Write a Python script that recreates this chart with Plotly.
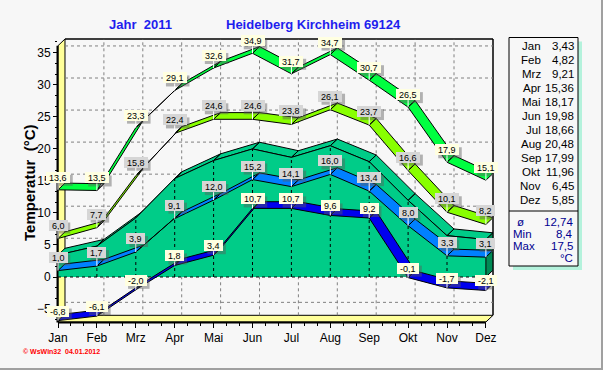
import plotly.graph_objects as go

# ---------------- data ----------------
months = ["Jan", "Feb", "Mrz", "Apr", "Mai", "Jun", "Jul", "Aug", "Sep", "Okt", "Nov", "Dez"]
abs_max = [13.6, 13.5, 23.3, 29.1, 32.6, 34.9, 31.7, 34.7, 30.7, 26.5, 17.9, 15.1]
mean_max = [6.0, 7.7, 15.8, 22.4, 24.6, 24.6, 23.8, 26.1, 23.7, 16.6, 10.1, 8.2]
mean_temp = [3.43, 4.82, 9.21, 15.36, 18.17, 19.98, 18.66, 20.48, 17.99, 11.96, 6.45, 5.85]
mean_min = [1.0, 1.7, 3.9, 9.1, 12.0, 15.2, 14.1, 16.0, 13.4, 8.0, 3.3, 3.1]
abs_min = [-6.8, -6.1, -2.0, 1.8, 3.4, 10.7, 10.7, 9.6, 9.2, -0.1, -1.7, -2.1]
summary_names = ["ø", "Min", "Max"]
summary_values = [12.74, 8.4, 17.5]
y_tick_values = [-5, 0, 5, 10, 15, 20, 25, 30, 35]

# ---------------- geometry (pixels) ----------------
W, H = 603, 370
PL, PR, PT, PB = 58, 493, 39, 322
X_STEP = 38.9
Y_ZERO = 277.0
Y_STEP = 6.41
DEPTH_X_PX, DEPTH_Y_PX = 7.0, 6.7

x_range = [0, (PR - PL) / X_STEP]
y_range = [(Y_ZERO - PB) / Y_STEP, (Y_ZERO - PT) / Y_STEP]
DX = DEPTH_X_PX / X_STEP
DY = DEPTH_Y_PX / Y_STEP

FONT = "Liberation Sans, Arial, sans-serif"
BG = "#F7F7F7"
LABEL_FS = 9
CHAR_W = {"-": 333, ",": 278}


def fx(p):
    return (p - PL) / (PR - PL)


def fy(p):
    return (PB - p) / (PB - PT)


def fmt(v, d=1):
    return f"{v:.{d}f}".replace(".", ",")


def text_w(t, fs):
    return sum(CHAR_W.get(c, 556) for c in t) * fs / 1000.0


xs = list(range(len(months)))


def ribbon(vals):
    X, Y = [], []
    for i in range(len(vals) - 1):
        X += [xs[i], xs[i + 1], xs[i + 1] + DX, xs[i] + DX, xs[i], None]
        Y += [vals[i], vals[i + 1], vals[i + 1] + DY, vals[i] + DY, vals[i], None]
    return X, Y


fig = go.Figure()

# ---------------- area (monthly mean) ----------------
tx, ty = ribbon(mean_temp)
fig.add_trace(go.Scatter(x=tx, y=ty, mode="lines", fill="toself", fillcolor="#00CC88",
                         line=dict(color="black", width=1), hoverinfo="skip", showlegend=False))
fig.add_trace(go.Scatter(x=xs + [xs[-1], xs[0]], y=mean_temp + [0, 0], mode="lines", fill="toself",
                         fillcolor="#00CC88", line=dict(width=0), hoverinfo="skip", showlegend=False))
fig.add_trace(go.Scatter(x=xs, y=mean_temp, mode="lines", line=dict(color="black", width=1),
                         hoverinfo="skip", showlegend=False))
# right side face
fig.add_trace(go.Scatter(x=[xs[-1], xs[-1], xs[-1] + DX, xs[-1] + DX, xs[-1]],
                         y=[0, mean_temp[-1], mean_temp[-1] + DY, DY, 0], mode="lines", fill="toself",
                         fillcolor="#008A55", line=dict(color="black", width=1),
                         hoverinfo="skip", showlegend=False))
# dotted edges
vx, vy = [], []
for i in xs[1:-1]:
    vx += [i, i, None]
    vy += [0, mean_temp[i], None]
fig.add_trace(go.Scatter(x=vx, y=vy, mode="lines", line=dict(color="black", width=1, dash="dot"),
                         hoverinfo="skip", showlegend=False))
fig.add_trace(go.Scatter(x=[xs[0], xs[-1]], y=[0, 0], mode="lines",
                         line=dict(color="black", width=1, dash="dot"),
                         hoverinfo="skip", showlegend=False))

# ---------------- ribbons ----------------
for vals, col in [(abs_max, "#00FF40"), (mean_max, "#88FF00"), (mean_min, "#0080FF"), (abs_min, "#0000EE")]:
    rx, ry = ribbon(vals)
    fig.add_trace(go.Scatter(x=rx, y=ry, mode="lines", fill="toself", fillcolor=col,
                             line=dict(color="black", width=1), hoverinfo="skip", showlegend=False))

# ---------------- frame shapes ----------------
shapes = []
BACK_L = PL + DEPTH_X_PX
FLOOR_B = PB - DEPTH_Y_PX
FRONT_R = PL + (len(months) - 1) * X_STEP


def ppath(points):
    return "M " + " L ".join(f"{fx(a):.5f},{fy(b):.5f}" for a, b in points) + " Z"


def pline(x0, y0, x1, y1, color="black", width=1, dash="solid", layer="below"):
    return dict(type="line", xref="paper", yref="paper", x0=fx(x0), y0=fy(y0), x1=fx(x1), y1=fy(y1),
                line=dict(color=color, width=width, dash=dash), layer=layer)


# grid on back wall (data coordinates, depth shifted)
for v in y_tick_values:
    shapes.append(dict(type="line", xref="x", yref="y", x0=DX, x1=x_range[1], y0=v + DY, y1=v + DY,
                       line=dict(color="#808080", width=1, dash="3px,3px"), layer="below"))
for i in xs[1:-1]:
    shapes.append(dict(type="line", xref="x", yref="y", x0=i + DX, x1=i + DX, y0=y_range[0] + DY,
                       y1=y_range[1], line=dict(color="#808080", width=1, dash="3px,3px"), layer="below"))

# left wall
shapes.append(dict(type="path", xref="paper", yref="paper",
                   path=ppath([(PL, PB), (PL, PT + DEPTH_Y_PX), (BACK_L, PT), (BACK_L, FLOOR_B)]),
                   fillcolor="#FFFF99", line=dict(color="black", width=1), layer="below"))
# floor
shapes.append(dict(type="path", xref="paper", yref="paper",
                   path=ppath([(PL, PB), (FRONT_R, PB), (PR, FLOOR_B), (BACK_L, FLOOR_B)]),
                   fillcolor="#FFFF99", line=dict(color="black", width=1), layer="below"))
# back wall borders
shapes.append(pline(BACK_L, PT, PR, PT, width=1.5))
shapes.append(pline(PR, PT, PR, FLOOR_B, width=1.5))
# front axis lines
shapes.append(pline(PL - 0.5, PT + DEPTH_Y_PX, PL - 0.5, PB + 0.5, width=2, layer="above"))
shapes.append(pline(PL, PB + 0.5, FRONT_R, PB + 0.5, width=2, layer="above"))

# table box
shapes.append(dict(type="rect", xref="paper", yref="paper", x0=fx(513), x1=fx(582), y0=fy(41.5), y1=fy(270),
                   fillcolor="#B4F2DC", line=dict(width=0), layer="below"))
shapes.append(dict(type="rect", xref="paper", yref="paper", x0=fx(509), x1=fx(578), y0=fy(37.5), y1=fy(266),
                   fillcolor=BG, line=dict(color="black", width=1), layer="below"))
shapes.append(pline(509, 211, 578, 211))
# image border
shapes.append(pline(0, 369, 603, 369, color="#A0A0A0", width=2, layer="above"))
shapes.append(pline(602, 0, 602, 370, color="#A0A0A0", width=2, layer="above"))

# ---------------- annotations ----------------
ann = []
BOX_H = 11


def add_labels(vals, bg, lift):
    for i, v in enumerate(vals):
        t = fmt(v)
        bw = text_w(t, LABEL_FS) + 4
        tot_w = bw + 2
        # drop shadow (pixel-sized shape anchored at the data point)
        shapes.append(dict(type="rect", xref="x", yref="y", xsizemode="pixel", ysizemode="pixel",
                           xanchor=xs[i], yanchor=v,
                           x0=-tot_w / 2 + 3, x1=tot_w / 2 + 3,
                           y0=lift - BOX_H / 2 - 3, y1=lift + BOX_H / 2 - 3,
                           fillcolor="rgba(90,90,90,0.45)", line=dict(width=0), layer="above"))
        ann.append(dict(x=xs[i], y=v, xref="x", yref="y", text=t, showarrow=True,
                        arrowhead=0, arrowwidth=1, arrowcolor="white", ax=0, ay=-lift, standoff=0,
                        font=dict(family=FONT, size=LABEL_FS, color="black"), width=bw, height=BOX_H - 2,
                        bgcolor=bg, borderpad=1, borderwidth=0))


add_labels(abs_max, "#FFFFE1", 12.5)
add_labels(mean_max, "#D6D6D6", 13.5)
add_labels(mean_min, "#D6D6D6", 13.5)
add_labels(abs_min, "#FFFFE1", 9.5)

# title
ann.append(dict(x=fx(140), y=fy(24), xref="paper", yref="paper", text="<b>Jahr\u00a0\u00a02011</b>",
                showarrow=False, xanchor="center", yanchor="middle",
                font=dict(family=FONT, size=13, color="#1E1EEE")))
ann.append(dict(x=fx(313.5), y=fy(24), xref="paper", yref="paper", text="<b>Heidelberg Kirchheim 69124</b>",
                showarrow=False, xanchor="center", yanchor="middle",
                font=dict(family=FONT, size=13, color="#1E1EEE")))
# y-axis title
ann.append(dict(x=fx(29), y=fy(183), xref="paper", yref="paper", text="<b>Temperatur\u00a0\u00a0(°C)</b>",
                showarrow=False, xanchor="center", yanchor="middle", textangle=-90,
                font=dict(family=FONT, size=15, color="black")))
# table
for i, m in enumerate(months):
    yy = 46 + 14 * i
    ann.append(dict(x=fx(543), y=fy(yy), xref="paper", yref="paper", text=m, showarrow=False,
                    xanchor="right", yanchor="middle", font=dict(family=FONT, size=11.5, color="black")))
    ann.append(dict(x=fx(576), y=fy(yy), xref="paper", yref="paper", text=fmt(mean_temp[i], 2),
                    showarrow=False, xanchor="right", yanchor="middle",
                    font=dict(family=FONT, size=11.5, color="black")))
summary_text = [fmt(summary_values[0], 2), fmt(summary_values[1], 1), fmt(summary_values[2], 1)]
for i, (nm, val) in enumerate(zip(summary_names, summary_text)):
    yy = 222 + 12 * i
    if i == 0:
        ann.append(dict(x=fx(520), y=fy(yy), xref="paper", yref="paper", text=nm, showarrow=False,
                        xanchor="center", yanchor="middle", font=dict(family=FONT, size=11.5, color="#000090")))
    else:
        ann.append(dict(x=fx(511), y=fy(yy), xref="paper", yref="paper", text=nm, showarrow=False,
                        xanchor="left", yanchor="middle", font=dict(family=FONT, size=11.5, color="#000090")))
    ann.append(dict(x=fx(575), y=fy(yy), xref="paper", yref="paper", text=val, showarrow=False,
                    xanchor="right", yanchor="middle", font=dict(family=FONT, size=11.5, color="#000090")))
ann.append(dict(x=fx(575), y=fy(258), xref="paper", yref="paper", text="°C", showarrow=False,
                xanchor="right", yanchor="middle", font=dict(family=FONT, size=11.5, color="#000090")))
# footer
ann.append(dict(x=fx(21), y=fy(351), xref="paper", yref="paper", text="<b>© WsWin32\u00a0\u00a004.01.2012</b>",
                showarrow=False, xanchor="left", yanchor="middle", font=dict(family=FONT, size=7, color="#FF0000")))

fig.update_layout(
    width=W, height=H,
    margin=dict(l=PL, r=W - PR, t=PT, b=H - PB, pad=0),
    paper_bgcolor=BG, plot_bgcolor=BG,
    showlegend=False, hovermode=False,
    shapes=shapes, annotations=ann,
    xaxis=dict(range=x_range, tickmode="array", tickvals=xs, ticktext=months, showgrid=False,
               zeroline=False, showline=False, ticks="outside", ticklen=5, tickcolor="black",
               tickfont=dict(family=FONT, size=12, color="black"), fixedrange=True,
               minor=dict(tickmode="array", tickvals=[k / 3 for k in range(1, 34) if k % 3 != 0],
                          ticks="outside", ticklen=3, tickcolor="black")),
    yaxis=dict(range=y_range, tickmode="array", tickvals=y_tick_values, showgrid=False,
               zeroline=False, showline=False, ticks="outside", ticklen=4, tickcolor="black",
               tickfont=dict(family=FONT, size=12, color="black"), fixedrange=True,
               minor=dict(tick0=0, dtick=5 / 3, ticks="outside", ticklen=2, tickcolor="black")),
)

fig.write_html("out.html",
               config={"displayModeBar": False, "staticPlot": True},
               post_script="document.body.style.margin='0';"
                           "document.body.style.background='#F7F7F7';"
                           "document.documentElement.style.background='#F7F7F7';")
